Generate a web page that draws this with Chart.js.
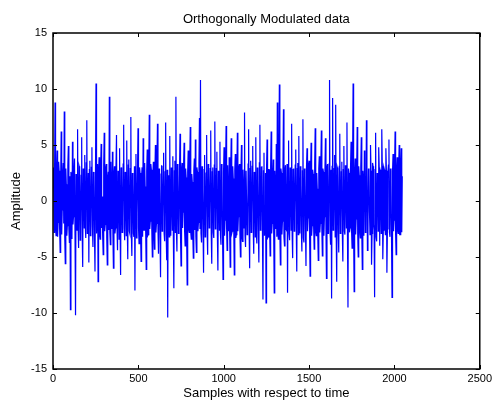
<!DOCTYPE html>
<html>
<head>
<meta charset="utf-8">
<script src="https://cdn.jsdelivr.net/npm/chart.js@4"></script>
<style>
  html, body { margin: 0; padding: 0; background: #fff; }
  #wrap { width: 495px; height: 401px; }
</style>
</head>
<body>
<div id="wrap"><canvas id="myChart"></canvas></div>
<script>
// amplitude, one value every 6 samples (0 .. 2046)
let amplitude = [
  1.2, -2.8, 8.8, -3.1, 4.5, -1.9, 2.7, -4.6, 6.2, -0.8, 3.4, 8.0, -5.6, 1.5, -2.2, 4.9, -3.7, -9.7, 2.1, 5.3,
  -1.4, 3.8, -10.2, 0.6, 6.4, -4.2, 2.9, -2.5, 5.7, -5.9, 1.8, 4.1, -3.3, 7.2, -1.2, -5.5, 3.6, -2.7, 4.8, -4.1,
  2.3, -6.3, 10.5, -1.7, -7.2, 3.9, -3.4, 5.1, 0.4, -4.8, 6.1, -2.1, 3.3, -5.7, 2.6, 9.3, -3.9, 1.1, 4.4, -6.0,
  3.1, -2.4, 5.9, -4.4, 1.9, 4.7, -6.6, 2.2, -1.6, 6.8, -3.5, 0.9, 5.4, -5.2, 3.7, -2.9, 7.5, -4.9, 1.6, -3.2,
  -8.0, 4.2, -1.1, 6.5, -3.8, 2.5, -5.4, 3.0, 5.6, -2.6, 1.3, -6.1, 4.6, -3.0, 7.7, -1.8, 2.8, -5.0, 3.5, -4.3,
  5.0, -2.0, 6.9, -4.7, 1.4, -6.8, 3.2, -1.5, 4.3, -3.6, 7.0, -5.3, -10.4, 2.0, 5.8, -3.1, 0.7, 4.0, -7.8, 3.6,
  9.3, -4.5, 2.4, -2.3, 6.0, -5.8, 3.4, -1.0, 5.2, -4.0, 2.1, -7.5, 4.5, -2.8, 6.6, -3.4, 1.7, -5.1, 3.8, 5.5,
  -4.6, 2.6, -1.9, 7.4, 10.8, -3.7, 1.0, -6.4, 4.1, -2.2, 5.9, -4.8, 2.9, -1.3, 6.3, -5.6, 3.0, -3.3, 7.1, -2.1,
  4.4, -6.2, 1.8, 5.3, -3.9, 2.3, -7.0, 4.8, -1.7, 6.7, -4.4, 0.8, 3.9, -5.9, 5.6, -2.7, 2.0, -6.6, 4.2, -3.0,
  6.1, -1.4, 3.3, -5.0, 5.0, -3.6, 1.5, 7.9, -4.1, 2.7, -2.5, 6.4, -6.0, 3.6, -1.2, 4.9, -4.7, 2.2, 5.7, -3.8,
  1.9, -5.5, 6.8, -2.4, 3.1, -8.8, 4.3, -1.6, -9.1, 5.5, -3.2, 2.8, -4.9, 6.2, -2.0, 3.7, -8.2, 1.2, 5.1, 8.8,
  -3.4, 10.4, -5.7, 2.5, -1.8, 8.2, -4.0, 3.2, -2.6, -8.2, 5.4, -3.5, 1.6, 6.9, -5.1, 2.9, -1.1, 4.6, -6.3, 3.4,
  5.8, -2.9, 1.4, -4.5, 7.3, -3.7, 2.0, -5.8, 4.7, -1.5, 3.6, -6.7, 5.2, -2.2, 2.4, -4.3, 6.5, -3.1, 1.1, -5.3,
  4.0, -2.0, 6.3, -4.9, 2.6, -1.4, 5.6, -6.9, 3.3, -2.7, 10.8, -3.9, -8.7, 9.2, -2.3, 4.1, 8.6, -7.2, 2.8, -4.6,
  6.0, -1.9, 3.5, -5.4, 4.9, -3.0, 1.7, 7.0, -9.5, 2.5, -2.4, 5.3, -4.2, 10.5, -8.1, 3.8, -1.6, 6.6, -5.0, 2.3,
  -3.3, 5.7, -6.1, 1.9, 4.5, -2.8, 7.2, -4.4, 2.9, -1.0, 5.0, -5.7, 3.4, -2.1, -8.6, 6.1, -3.6, 2.1, 4.8, -4.0,
  1.3, 6.4, -5.2, 3.0, -2.3, 4.7, -6.4, 2.6, 5.5, -3.2, 1.8, -8.6, 4.2, -1.7, 6.2, -4.8, 3.9, -2.9, 5.0, -3.0,
  4.7, 2.2
]
// the dense middle band, one value between each pair above (samples 3, 9, 15 ...)
let amplitudeMid = [
  3.0, 2.1, -2.4, 2.8, -3.2, 3.5, -2.6, 1.9, -3.0, 2.4, -2.0, -3.3, 2.9, -3.1, 3.2, -2.5, 2.2, 2.6, -3.4, -2.1,
  2.7, -3.0, 2.4, -2.6, -2.2, 3.1, -3.5, 2.3, -2.8, 2.9, -2.4, -2.2, 3.4, -2.9, 2.5, 2.8, -3.1, 3.0, -2.3, 2.6,
  -3.2, 2.7, -2.9, 3.3, 2.5, -3.0, 2.8, -2.4, -3.1, 3.2, -2.7, 2.9, -3.3, 2.1, -2.6, -2.8, 3.5, -2.5, -3.0, 2.4,
  -2.9, 3.1, -2.5, 2.7, -3.4, -2.3, 3.0, -2.8, 3.3, -2.4, 2.6, -3.1, -2.2, 3.2, -2.7, 2.9, -3.0, 2.5, -2.9, 3.1,
  2.8, -3.3, 2.6, -2.4, 3.0, -2.9, 2.3, -3.2, -2.6, 3.4, -2.8, 2.7, -3.1, 2.9, -2.5, 3.3, -2.7, 2.4, -3.0, 2.6,
  -2.8, 3.2, -2.5, 2.9, -3.3, 2.4, -2.7, 3.1, -2.9, 2.6, -3.0, 2.8, 2.3, -3.2, -2.4, 3.0, -2.6, -3.1, 2.7, -2.8,
  -2.6, 3.3, -2.9, 2.5, -3.1, 2.8, -2.4, 3.2, -2.7, 2.9, -3.3, 2.6, -2.5, 3.1, -2.8, 2.4, -3.0, 2.7, -2.6, -3.2,
  3.0, -2.7, 3.4, -2.5, -2.9, 3.1, -2.6, 2.8, -3.2, 2.5, -2.7, 3.3, -2.4, 2.9, -3.0, 2.6, -2.8, 3.2, -2.5, 2.9,
  -3.1, 2.7, -2.6, -3.0, 3.3, -2.8, 2.5, -3.1, 2.9, -2.4, 3.2, -2.7, -3.0, 2.6, -2.9, 3.1, -2.5, 2.8, -3.3, 2.4,
  -2.7, 3.0, -2.9, 2.6, -3.2, 2.8, -2.4, -3.1, 2.7, -3.0, 3.3, -2.6, 2.9, -2.8, 3.1, -2.5, 2.6, -3.2, -2.7, 3.0,
  -2.8, 3.4, -2.6, 3.0, -2.9, 2.7, -3.1, 2.5, 2.9, -3.3, 2.8, -2.6, 3.1, -2.9, 2.4, -3.0, 2.7, -2.5, -3.2, -2.8,
  3.1, -2.7, 2.9, -3.0, 2.6, -3.2, 2.8, -2.5, 3.3, 2.7, -2.9, 3.0, -2.6, -3.1, 2.8, -2.7, 3.2, -2.4, 2.9, -3.0,
  -2.6, 3.1, -2.8, 2.7, -3.3, 2.9, -2.5, 3.0, -2.7, 3.2, -2.9, 2.6, -3.1, 2.8, -2.4, 3.3, -2.7, 2.5, -3.0, 2.9,
  -2.8, 3.2, -2.6, 2.9, -3.1, 2.7, -2.5, 3.0, -2.9, 3.3, -2.7, 2.8, 3.1, -2.6, 2.9, -3.2, -2.8, 3.0, -2.7, 3.1,
  -2.9, 2.6, -3.0, 2.8, -2.7, 3.2, -2.4, -3.1, 2.9, -2.8, 3.0, -2.6, 3.3, -2.7, 2.5, -3.0, 2.8, -2.9, 3.1, -2.6,
  3.0, -2.8, 2.7, -3.1, 2.9, -2.5, 3.2, -2.8, 2.6, -3.0, 2.7, -2.9, 3.1, -2.6, 2.8, -3.2, 2.5, -2.7, 3.0, 2.8,
  -2.9, 3.1, -2.6, 2.8, -3.0, 2.7, -2.5, 3.2, -2.8, 2.9, -3.1, 2.6, -2.7, 3.0, -2.9, 2.8, -2.6, 3.1, -3.0, 3.2,
  -2.8
]
let sampleStep = 6
let xTicks = [0, 500, 1000, 1500, 2000, 2500]
let yTicks = [-15, -10, -5, 0, 5, 10, 15]

let puntos = []
amplitude.forEach((v, i) => {
    puntos.push({ x: i * sampleStep, y: v })
    if (i < amplitudeMid.length) puntos.push({ x: i * sampleStep + sampleStep / 2, y: amplitudeMid[i] })
})

// caja negra con marcas hacia adentro (estilo matlab)
const caja = {
    id: 'caja',
    afterDraw(chart) {
        const { ctx, chartArea: a, scales } = chart
        ctx.save()
        ctx.strokeStyle = '#000'
        ctx.lineWidth = 1.5
        ctx.strokeRect(a.left, a.top, a.right - a.left, a.bottom - a.top)
        ctx.lineWidth = 1
        ctx.beginPath()
        xTicks.forEach(t => {
            let px = Math.round(scales.x.getPixelForValue(t)) + 0.5
            ctx.moveTo(px, a.bottom); ctx.lineTo(px, a.bottom - 4)
            ctx.moveTo(px, a.top); ctx.lineTo(px, a.top + 4)
        })
        yTicks.forEach(t => {
            let py = Math.round(scales.y.getPixelForValue(t)) + 0.5
            ctx.moveTo(a.left, py); ctx.lineTo(a.left + 4, py)
            ctx.moveTo(a.right, py); ctx.lineTo(a.right - 4, py)
        })
        ctx.stroke()
        ctx.restore()
    }
}

const fuente = { family: '"Liberation Sans", Arial, sans-serif', size: 11 }
const fuenteTitulo = { family: '"Liberation Sans", Arial, sans-serif', size: 13 }

new Chart(document.getElementById('myChart'), {
    type: 'line',
    data: {
        datasets: [{
            data: puntos,
            borderColor: '#0000ff',
            borderWidth: 1.2,
            pointRadius: 0,
            tension: 0,
            fill: false
        }]
    },
    options: {
        responsive: true,
        maintainAspectRatio: false,
        animation: false,
        layout: { padding: { top: 0, right: 15, bottom: 0, left: 0 } },
        plugins: {
            legend: { display: false },
            tooltip: { enabled: false }
        },
        scales: {
            x: {
                type: 'linear',
                min: 0,
                max: 2500,
                afterBuildTicks: s => { s.ticks = xTicks.map(v => ({ value: v })) },
                afterFit: s => { s.height = 32 },
                grid: { display: false, drawTicks: false },
                border: { display: false },
                ticks: { color: '#000', font: fuente, padding: 3, maxRotation: 0, callback: v => String(v) },
                title: {
                    display: true,
                    text: 'Samples with respect to time',
                    color: '#000',
                    font: fuenteTitulo,
                    padding: { top: 0, bottom: 0 }
                }
            },
            // eje de arriba solo para el titulo centrado sobre el grafico
            arriba: {
                type: 'linear',
                position: 'top',
                min: 0,
                max: 2500,
                afterFit: s => { s.height = 33 },
                grid: { display: false, drawTicks: false },
                border: { display: false },
                ticks: { display: false },
                title: {
                    display: true,
                    text: 'Orthogonally Modulated data',
                    color: '#000',
                    font: fuenteTitulo,
                    padding: { top: 12, bottom: 0 }
                }
            },
            y: {
                min: -15,
                max: 15,
                afterBuildTicks: s => { s.ticks = yTicks.map(v => ({ value: v })) },
                afterFit: s => { s.width = 53 },
                grid: { display: false, drawTicks: false },
                border: { display: false },
                ticks: { color: '#000', font: fuente, padding: 6, callback: v => String(v) },
                title: {
                    display: true,
                    text: 'Amplitude',
                    color: '#000',
                    font: fuenteTitulo,
                    padding: { top: 9, bottom: 0 }
                }
            }
        }
    },
    plugins: [caja]
});
</script>
</body>
</html>
